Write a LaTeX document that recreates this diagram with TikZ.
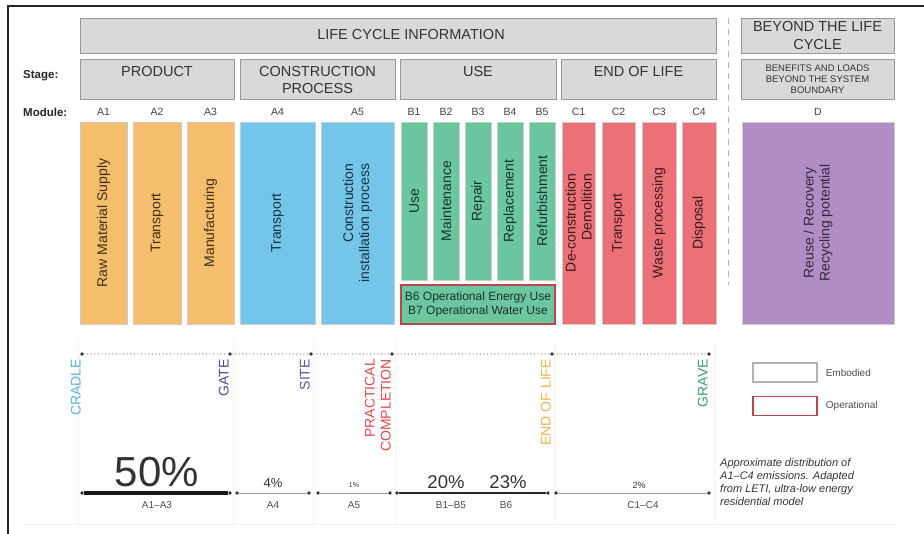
\documentclass[tikz,border=0pt]{standalone}
\usepackage{fontspec}
\setmainfont{Liberation Sans}
\usetikzlibrary{positioning,calc}
\definecolor{headgrey}{HTML}{D9D9D9}
\definecolor{prodorange}{HTML}{F5BE6C}
\definecolor{consblue}{HTML}{73C6EA}
\definecolor{usegreen}{HTML}{6CC7A1}
\definecolor{eolred}{HTML}{EC7077}
\definecolor{beyondpurple}{HTML}{B18CC5}
\definecolor{opred}{HTML}{B8474C}
\definecolor{cradleblue}{HTML}{5AB4DC}
\definecolor{gatenavy}{HTML}{4B4E8E}
\definecolor{sitepurple}{HTML}{6B4FA0}
\definecolor{practred}{HTML}{E0474F}
\definecolor{eolgold}{HTML}{EDB24A}
\definecolor{gravegreen}{HTML}{3E9E6C}
\tikzset{
  headbox/.style={
    draw=black!40,
    fill=headgrey,
    line width=0.8pt,
    inner sep=0pt,
    align=center,
    text=black!80,
    font=\fontsize{14.5}{17.5}\selectfont
  },
  headtext/.style={
    inner sep=0pt,
    align=center,
    text=black!80,
    font=\fontsize{14.5}{17}\selectfont
  },
  rowlabel/.style={
    anchor=west,
    inner sep=0pt,
    text=black!85,
    font=\bfseries\fontsize{11.5}{13}\selectfont
  },
  modlabel/.style={
    inner sep=0pt,
    text=black!75,
    font=\fontsize{10.5}{12}\selectfont
  },
  modbar/.style={
    draw=black!20,
    line width=0.6pt,
    rotate=90,
    inner sep=1pt,
    align=center,
    font=\fontsize{14}{16}\selectfont
  },
  orangebar/.style={modbar, fill=prodorange, text=prodorange!25!black},
  bluebar/.style={modbar, fill=consblue, text=consblue!25!black},
  greenbar/.style={modbar, fill=usegreen, text=usegreen!25!black},
  redbar/.style={modbar, fill=eolred, text=eolred!25!black},
  purplebar/.style={modbar, fill=beyondpurple, text=beyondpurple!30!black},
  milestone/.style={
    rotate=90,
    anchor=south east,
    inner sep=1pt,
    align=right,
    font=\fontsize{14}{16}\selectfont
  },
  mdot/.style={
    circle,
    fill=black!80,
    inner sep=0pt,
    minimum size=3.6pt
  },
  seglabel/.style={
    inner sep=0pt,
    text=black!70,
    font=\fontsize{10}{12}\selectfont
  },
  pct/.style={
    anchor=base,
    inner sep=0pt,
    text=black!80
  },
  legbox/.style={
    minimum width=64pt,
    minimum height=19pt,
    inner sep=0pt,
    fill=white
  },
  legtext/.style={
    inner sep=0pt,
    text=black!70,
    font=\fontsize{10}{12}\selectfont
  },
  faint/.style={
    draw=black!5,
    line width=0.8pt
  }
}
\begin{document}
\begin{tikzpicture}[x=1pt,y=-1pt]
  \useasboundingbox (0,0) rectangle (924,534);
  \draw[line width=1.6pt, black!85] (8,534) -- (8,6) -- (924,6);

  % faint guides of the lower part
  \draw[faint] (22,524) -- (900,524);
  \draw[faint] (78,340) -- (78,524);
  \draw[faint] (233,340) -- (233,524);
  \draw[faint] (313,340) -- (313,524);
  \draw[faint] (395,340) -- (395,524);
  \draw[faint] (554,340) -- (554,524);
  \draw[faint] (714,340) -- (714,524);

  % headers
  \node[headbox, minimum width=636pt, minimum height=35pt] (lci) at (398,35.5) {};
  \node[headtext] (lcitext) at (411,34.5) {LIFE CYCLE INFORMATION};
  \node[headbox, minimum width=153pt, minimum height=35pt] (beyond) at (817.5,35.5) {BEYOND THE LIFE\\CYCLE};
  \node[headbox, minimum width=154pt, minimum height=40pt] (product) at (157,79) {};
  \node[headbox, minimum width=155pt, minimum height=40pt] (construction) at (317.5,79) {};
  \node[headbox, minimum width=156pt, minimum height=40pt] (use) at (478,79) {};
  \node[headbox, minimum width=155pt, minimum height=40pt] (endoflife) at (638.5,79) {};
  \node[headbox, minimum width=153pt, minimum height=40pt, font=\fontsize{9.5}{11}\selectfont] (benefits) at (817.5,79) {BENEFITS AND LOADS\\BEYOND THE SYSTEM\\BOUNDARY};
  \node[headtext, below=7.5pt] at (product.north) {PRODUCT};
  \node[headtext, below=7.5pt] at (construction.north) {CONSTRUCTION\\PROCESS};
  \node[headtext, below=7.5pt] at (use.north) {USE};
  \node[headtext, below=7.5pt] at (endoflife.north) {END OF LIFE};

  \node[rowlabel] (stagelbl) at (23,76) {Stage:};
  \node[rowlabel] (modulelbl) at (23,112) {Module:};

  \coordinate (septop) at (728,18);
  \coordinate (sepbot) at (728,285);
  \draw[black!30, line width=1pt, dash pattern=on 6pt off 5pt] (septop) -- (sepbot);

  % module bars
  \node[orangebar, minimum width=202pt, minimum height=47pt] (a1) at (103.5,223) {Raw Material Supply};
  \node[orangebar, minimum width=202pt, minimum height=48pt] (a2) at (157,223) {Transport};
  \node[orangebar, minimum width=202pt, minimum height=47pt] (a3) at (210.5,223) {Manufacturing};
  \node[bluebar, minimum width=202pt, minimum height=75pt] (a4) at (277.5,223) {Transport};
  \node[bluebar, minimum width=202pt, minimum height=73pt, align=right] (a5) at (357.5,223) {Construction\\installation process};
  \node[greenbar, minimum width=158pt, minimum height=26pt] (b1) at (414,201) {Use};
  \node[greenbar, minimum width=158pt, minimum height=26pt] (b2) at (446,201) {Maintenance};
  \node[greenbar, minimum width=158pt, minimum height=26pt] (b3) at (478,201) {Repair};
  \node[greenbar, minimum width=158pt, minimum height=26pt] (b4) at (510,201) {Replacement};
  \node[greenbar, minimum width=158pt, minimum height=26pt] (b5) at (542,201) {Refurbishment};
  \node[redbar, minimum width=202pt, minimum height=33pt, align=right] (c1) at (578.5,223) {De-construction\\Demolition};
  \node[redbar, minimum width=202pt, minimum height=33pt] (c2) at (618.5,223) {Transport};
  \node[redbar, minimum width=202pt, minimum height=34pt] (c3) at (659,223) {Waste processing};
  \node[redbar, minimum width=202pt, minimum height=34pt] (c4) at (699,223) {Disposal};
  \node[purplebar, minimum width=202pt, minimum height=152pt] (d) at (818,223) {Reuse / Recovery\\Recycling potential};
  \node[draw=opred, line width=1.5pt, fill=usegreen, text=usegreen!25!black, minimum width=154pt, minimum height=39pt,
        inner sep=0pt, align=center, font=\fontsize{12}{14}\selectfont] (b67) at (478,304.5) {B6 Operational Energy Use\\B7 Operational Water Use};

  \foreach \m/\t in {a1/A1, a2/A2, a3/A3, a4/A4, a5/A5, b1/B1, b2/B2, b3/B3, b4/B4, b5/B5, c1/C1, c2/C2, c3/C3, c4/C4, d/D}
    \node[modlabel, above=6pt] (lbl\m) at (\m.east) {\t};

  % milestones
  \node[mdot] (cradle) at (82,354) {};
  \node[mdot] (gate) at (230,354) {};
  \node[mdot] (site) at (311,354) {};
  \node[mdot] (practical) at (392,354) {};
  \node[mdot] (eol) at (552,354) {};
  \node[mdot] (grave) at (709,354) {};
  \draw[black!45, line width=1.4pt, line cap=round, dash pattern=on 0pt off 3.6pt]
    (cradle) -- (gate) -- (site) -- (practical) -- (eol) -- (grave);
  \node[milestone, text=cradleblue] at (cradle |- 0,358) {CRADLE};
  \node[milestone, text=gatenavy] at (gate |- 0,358) {GATE};
  \node[milestone, text=sitepurple] at (site |- 0,358) {SITE};
  \node[milestone, text=practred] at (practical |- 0,358) {PRACTICAL\\COMPLETION};
  \node[milestone, text=eolgold] at (eol |- 0,358) {END OF LIFE};
  \node[milestone, text=gravegreen] at (grave |- 0,358) {GRAVE};

  % distribution line
  \node[mdot] (p1) at (82,493) {};
  \node[mdot] (p2) at (230,493) {};
  \node[mdot] (p3) at (237,493) {};
  \node[mdot] (p4) at (309,493) {};
  \node[mdot] (p5) at (318,493) {};
  \node[mdot] (p6) at (390,493) {};
  \node[mdot] (p7) at (397,493) {};
  \node[mdot] (p8) at (548,493) {};
  \node[mdot] (p9) at (556,493) {};
  \node[mdot] (p10) at (709,493) {};
  \draw[black!90, line width=3.5pt] (p1) -- (p2);
  \draw[black!40, line width=1pt] (p3) -- (p4);
  \draw[black!40, line width=1pt] (p5) -- (p6);
  \draw[black!85, line width=2pt] (p7) -- (p8);
  \draw[black!40, line width=1pt] (p9) -- (p10);

  \node[pct, font=\fontsize{42}{42}\selectfont] (pa13) at (157,486) {50\%};
  \node[pct, font=\fontsize{13}{13}\selectfont] (pa4) at (273,487) {4\%};
  \node[pct, font=\fontsize{7}{7}\selectfont] (pa5) at (354,487) {1\%};
  \node[pct, font=\fontsize{18.5}{18.5}\selectfont] (pb15) at (446,488) {20\%};
  \node[pct, font=\fontsize{18.5}{18.5}\selectfont] (pb6) at (508,488) {23\%};
  \node[pct, font=\fontsize{9}{9}\selectfont] (pc14) at (639,488) {2\%};

  \node[seglabel] (sa13) at (157,505) {A1--A3};
  \node[seglabel] (sa4) at (273,505) {A4};
  \node[seglabel] (sa5) at (354,505) {A5};
  \node[seglabel] (sb15) at (451,505) {B1--B5};
  \node[seglabel] (sb6) at (506,505) {B6};
  \node[seglabel] (sc14) at (643,505) {C1--C4};

  % legend
  \node[legbox, draw=black!30, line width=1.2pt] (embbox) at (785,372.5) {};
  \node[legbox, draw=opred, line width=1.5pt] (opbox) at (785,406) {};
  \node[legtext, right=8pt of embbox] (embtext) {Embodied};
  \node[legtext, right=8pt of opbox] (optext) {Operational};

  \node[anchor=north west, inner sep=0pt, align=left, text=black!80, font=\itshape\fontsize{11}{13}\selectfont] (note) at (720,458)
    {Approximate distribution of\\A1--C4 emissions. Adapted\\from LETI, ultra-low energy\\residential model};
\end{tikzpicture}
\end{document}
